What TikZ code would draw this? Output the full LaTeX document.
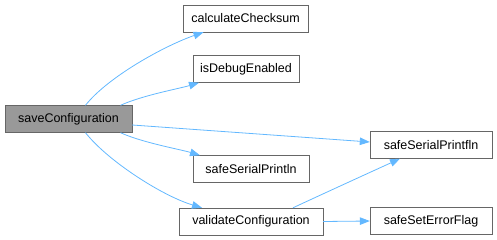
\documentclass[tikz,border=0pt]{standalone}
\usepackage{fontspec}
\setmainfont{Liberation Sans}
\usetikzlibrary{arrows.meta}
\definecolor{edgeblue}{HTML}{63B8FF}
\definecolor{boxline}{HTML}{666666}
\definecolor{rootfill}{HTML}{999999}
\begin{document}
\begin{tikzpicture}[x=1pt,y=-1pt]
      \tikzset{func/.style={draw=boxline, fill=white, minimum height=27pt, inner sep=0pt, font=\fontsize{12.5}{14}\selectfont},
               rootfunc/.style={func, fill=rootfill},
               calls/.style={draw=edgeblue, line width=0.8pt, -{Triangle[length=10pt,width=7.5pt]}}}
      \useasboundingbox (0,0) rectangle (497,240);
%% Functions
      	\node[rootfunc, minimum width=127pt] (save) at (68.5,119) {saveConfiguration};
      	\node[func, minimum width=125pt] (calc) at (245.5,18.5) {calculateChecksum};
      	\node[func, minimum width=106pt] (dbg) at (246,69) {isDebugEnabled};
      	\node[func, minimum width=116pt] (println) at (251,169) {safeSerialPrintln};
      	\node[func, minimum width=144pt] (valid) at (251,221.5) {validateConfiguration};
      	\node[func, minimum width=122pt] (printfln) at (431,145) {safeSerialPrintfln};
      	\node[func, minimum width=122pt] (errflag) at (431,221) {safeSetErrorFlag};
%Calls
		\draw[calls] ([xshift=17pt]save.north) .. controls +(22,-28) and +(-40,14) .. ([xshift=-42pt]calc.south);
		\draw[calls] ([xshift=52pt]save.north) .. controls +(22,-10) and +(-20,6) .. ([xshift=-47pt]dbg.south);
		\draw[calls] ([yshift=-6pt]save.east) -- ([yshift=3pt]printfln.west);
		\draw[calls] ([xshift=52pt]save.south) .. controls +(22,10) and +(-20,-6) .. ([xshift=-51pt]println.north);
		\draw[calls] ([xshift=17pt]save.south) .. controls +(22,28) and +(-40,-12) .. ([xshift=-49pt]valid.north);
		\draw[calls] ([xshift=42pt]valid.north) .. controls +(30,-14) and +(-22,10) .. ([xshift=-31pt]printfln.south);
		\draw[calls] (valid.east) -- (errflag.west);
	\end{tikzpicture}
\end{document}
